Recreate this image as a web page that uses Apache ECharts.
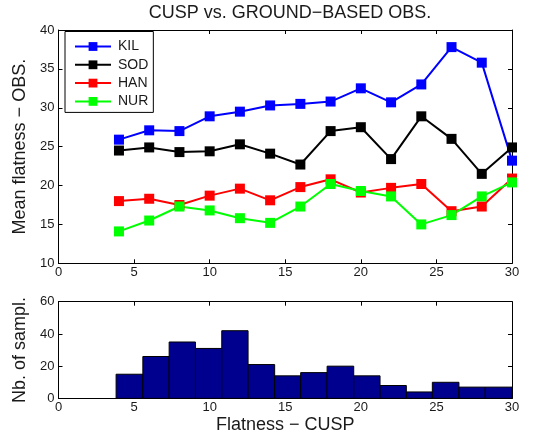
<!DOCTYPE html>
<html><head><meta charset="utf-8">
<script src="https://cdn.jsdelivr.net/npm/echarts@6/dist/echarts.min.js"></script>
<style>html,body{margin:0;padding:0;background:#fff}#c{width:541px;height:443px}</style>
</head><body><div id="c"></div>
<script>
const xVals = [4,6,8,10,12,14,16,18,20,22,24,26,28,30];
const KIL = [25.9,27.1,27.0,28.9,29.5,30.3,30.5,30.8,32.5,30.7,33.0,37.8,35.8,23.2];
const SOD = [24.5,24.9,24.3,24.4,25.3,24.1,22.7,27.0,27.5,23.4,28.9,26.0,21.5,24.9];
const HAN = [18.0,18.3,17.5,18.7,19.6,18.1,19.8,20.8,19.1,19.7,20.2,16.7,17.3,20.9];
const NUR = [14.1,15.5,17.3,16.8,15.8,15.2,17.3,20.2,19.3,18.6,15.0,16.2,18.6,20.4];
const binEdges = [3.81,5.58,7.32,9.06,10.80,12.54,14.30,16.02,17.77,19.53,21.27,23.01,24.73,26.49,28.23,30.0];
const binCounts = [15,26,35,31,42,21,14,16,20,14,8,4,10,7,7];

const FONT = 'Liberation Sans';
const TXT = '#1a1a1a';
const pair = a => xVals.map((x,i)=>[x,a[i]]);
const hist = binCounts.map((c,i)=>[binEdges[i],binEdges[i+1],c]);

function mkX(grid, show, pos) {
  return {type:'value', gridIndex:grid, min:0, max:30, interval:5, position:pos,
    axisLine:{show:true, onZero:false, lineStyle:{color:'#000', width:1}},
    axisTick:{show:true, inside:true, length:4, lineStyle:{color:'#000'}},
    axisLabel:{show:show, color:TXT, fontFamily:FONT, fontSize:13, margin:3},
    splitLine:{show:false}};
}
function mkY(grid, show, pos, min, max, iv) {
  return {type:'value', gridIndex:grid, min:min, max:max, interval:iv, position:pos,
    axisLine:{show:true, onZero:false, lineStyle:{color:'#000', width:1}},
    axisTick:{show:true, inside:true, length:4, lineStyle:{color:'#000'}},
    axisLabel:{show:show, color:TXT, fontFamily:FONT, fontSize:13, margin:4},
    splitLine:{show:false}};
}

const chart = echarts.init(document.getElementById('c'), null, {renderer:'canvas'});
const lineSeries = (name, data, color) => ({
  name, type:'line', xAxisIndex:0, yAxisIndex:0, data:pair(data),
  symbol:'rect', symbolSize:10, showAllSymbol:true,
  lineStyle:{color, width:2}, itemStyle:{color, borderWidth:0}, animation:false, z:3
});

const ax0 = mkY(0,true,'left',10,40,5);
ax0.name = 'Mean flatness \u2212 OBS.'; ax0.nameLocation='middle'; ax0.nameGap=26;
ax0.nameTextStyle = {color:TXT, fontFamily:FONT, fontSize:18};
const ax2 = mkY(1,true,'left',0,60,20);
ax2.name = 'Nb. of sampl.'; ax2.nameLocation='middle'; ax2.nameGap=26;
ax2.nameTextStyle = {color:TXT, fontFamily:FONT, fontSize:18};
const bx = mkX(1,true,'bottom');
bx.name = 'Flatness \u2212 CUSP'; bx.nameLocation='middle'; bx.nameGap=18;
bx.nameTextStyle = {color:TXT, fontFamily:FONT, fontSize:18};

chart.setOption({
  animation:false,
  backgroundColor:'#fff',
  title:{text:'CUSP vs. GROUND\u2212BASED OBS.', left:285, top:-1, textAlign:'center',
    textStyle:{color:TXT, fontFamily:FONT, fontSize:18, fontWeight:'normal'}},
  grid:[
    {left:58.5, right:29, top:30, height:233.3, containLabel:false},
    {left:58.5, right:29, top:301.7, height:96.7, containLabel:false}
  ],
  legend:{data:['KIL','SOD','HAN','NUR'], orient:'vertical', left:65, top:31.5,
    itemWidth:36, itemHeight:11, itemGap:4.3, padding:[8,5,4,9],
    borderColor:'#000', borderWidth:1, backgroundColor:'#fff',
    textStyle:{color:TXT, fontFamily:FONT, fontSize:14, padding:[0,0,0,2]}},
  xAxis:[mkX(0,true,'bottom'), mkX(0,false,'top'), bx, mkX(1,false,'top')],
  yAxis:[ax0, mkY(0,false,'right',10,40,5), ax2, mkY(1,false,'right',0,60,20)],
  series:[
    lineSeries('KIL', KIL, '#0000ff'),
    lineSeries('SOD', SOD, '#000000'),
    lineSeries('HAN', HAN, '#ff0000'),
    lineSeries('NUR', NUR, '#00ff00'),
    {type:'custom', xAxisIndex:2, yAxisIndex:2, data:hist, animation:false,
      renderItem:function(params, api){
        const p0 = api.coord([api.value(0), api.value(2)]);
        const p1 = api.coord([api.value(1), 0]);
        return {type:'rect', shape:{x:p0[0], y:p0[1], width:p1[0]-p0[0], height:p1[1]-p0[1]},
          style:{fill:'#00008f', stroke:'#000', lineWidth:1}};
      }}
  ]
});
</script></body></html>
